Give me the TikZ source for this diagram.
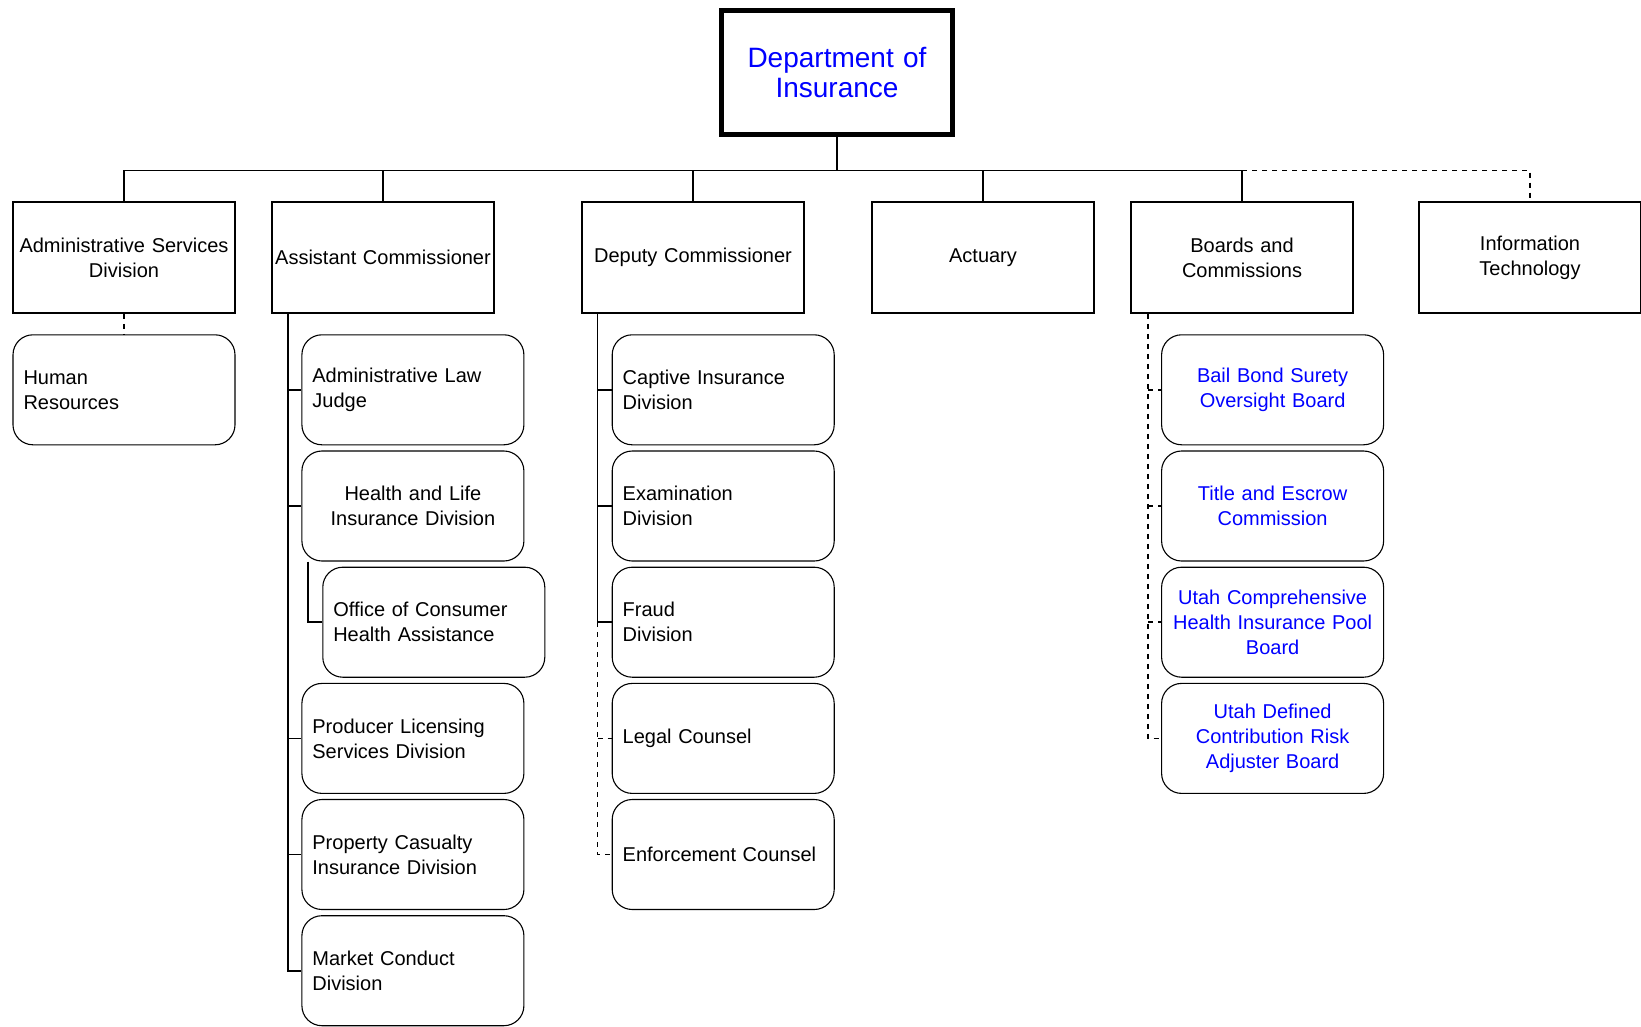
\documentclass[tikz,border=0pt]{standalone}
\usepackage{fontspec}
\setmainfont{Liberation Sans}
\hyphenpenalty=10000
\begin{document}
\begin{tikzpicture}[x=1pt,y=-1pt,
  txt/.style={font=\fontsize{20}{25}\selectfont},
  topbox/.style={draw, line width=1.6pt, minimum width=222pt, minimum height=111pt,
    text width=218pt, inner xsep=2pt, align=center, txt},
  child/.style={draw, rounded corners=20pt, line width=1.1pt, minimum height=110pt,
    inner xsep=10.5pt, text width=201pt, txt},
  leftc/.style={child, align=left},
  centc/.style={child, align=center},
  bluec/.style={child, align=center, text width=212pt, inner xsep=5pt, text=blue},
  conn/.style={line width=1.7pt},
  dsh/.style={conn, dash pattern=on 5pt off 5pt}]
\useasboundingbox (0,0) rectangle (1641,1026);
% top
\node[draw, line width=4.5pt, minimum width=231pt, minimum height=124pt, text width=224pt,
  align=center, text=blue, font=\fontsize{28}{30.5}\selectfont] (dept) at (837,72.5)
  {Department~of\\Insurance};
% first level
\node[topbox] (admin) at (124,257.5) {Administrative~Services\\Division};
\node[topbox] (asst) at (383,257.5) {Assistant~Commissioner};
\node[topbox] (dep) at (693,257.5) {Deputy~Commissioner};
\node[topbox] (act) at (983,257.5) {Actuary};
\node[topbox] (boards) at (1242,257.5) {Boards and\\Commissions};
\node[topbox] (it) at (1530,257.5) {Information\\Technology};
% admin child
\node[leftc] (hr) at (124,389.8) {Human\\Resources};
% assistant children
\node[leftc] (alj) at (412.9,389.8) {Administrative~Law\\Judge};
\node[centc] (hl) at (412.9,506) {Health and Life\\Insurance~Division};
\node[leftc] (ocha) at (433.8,622.2) {Office~of~Consumer\\Health~Assistance};
\node[leftc] (prod) at (412.9,738.4) {Producer~Licensing\\Services~Division};
\node[leftc] (prop) at (412.9,854.5) {Property~Casualty\\Insurance~Division};
\node[leftc] (mkt) at (412.9,970.7) {Market~Conduct\\Division};
% deputy children
\node[leftc] (cap) at (723.2,389.8) {Captive~Insurance\\Division};
\node[leftc] (exam) at (723.2,506) {Examination\\Division};
\node[leftc] (fraud) at (723.2,622.2) {Fraud\\Division};
\node[leftc] (legal) at (723.2,738.4) {Legal~Counsel};
\node[leftc] (enf) at (723.2,854.5) {Enforcement~Counsel};
% boards children
\node[bluec] (bail) at (1272.6,389.8) {Bail~Bond~Surety\\Oversight~Board};
\node[bluec] (title) at (1272.6,506) {Title~and~Escrow\\Commission};
\node[bluec] (ucomp) at (1272.6,622.2) {Utah~Comprehensive\\Health~Insurance~Pool\\Board};
\node[bluec] (udef) at (1272.6,738.4) {Utah~Defined\\Contribution~Risk\\Adjuster~Board};
% helper coordinates
\coordinate (busy) at (0,170.6);
\coordinate (av) at (287.8,0);
\coordinate (hv) at (307.7,0);
\coordinate (dv) at (597.6,0);
\coordinate (bv) at (1148.1,0);
% connectors
\draw[conn] (dept.south) -- (dept.south |- busy);
\draw[conn] (admin.north) -- (admin.north |- busy) -- (boards.north |- busy) -- (boards.north);
\foreach \n in {asst,dep,act} \draw[conn] (\n.north) -- (\n.north |- busy);
\draw[dsh] (boards.north |- busy) -- (it.north |- busy) -- (it.north);
\draw[dsh] (admin.south) -- (hr.north);
\draw[conn] (av |- asst.south) -- (av |- mkt.west) -- (mkt.west);
\foreach \n in {alj,hl,prod,prop} \draw[conn] (av |- \n.west) -- (\n.west);
\draw[conn] (hv |- hl.south) -- (hv |- ocha.west) -- (ocha.west);
\draw[conn] (dv |- dep.south) -- (dv |- fraud.west) -- (fraud.west);
\foreach \n in {cap,exam} \draw[conn] (dv |- \n.west) -- (\n.west);
\draw[dsh] (dv |- fraud.west) -- (dv |- enf.west) -- (enf.west);
\draw[dsh] (dv |- legal.west) -- (legal.west);
\draw[dsh] (bv |- boards.south) -- (bv |- udef.west) -- (udef.west);
\foreach \n in {bail,title,ucomp} \draw[dsh] (bv |- \n.west) -- (\n.west);
\end{tikzpicture}
\end{document}
